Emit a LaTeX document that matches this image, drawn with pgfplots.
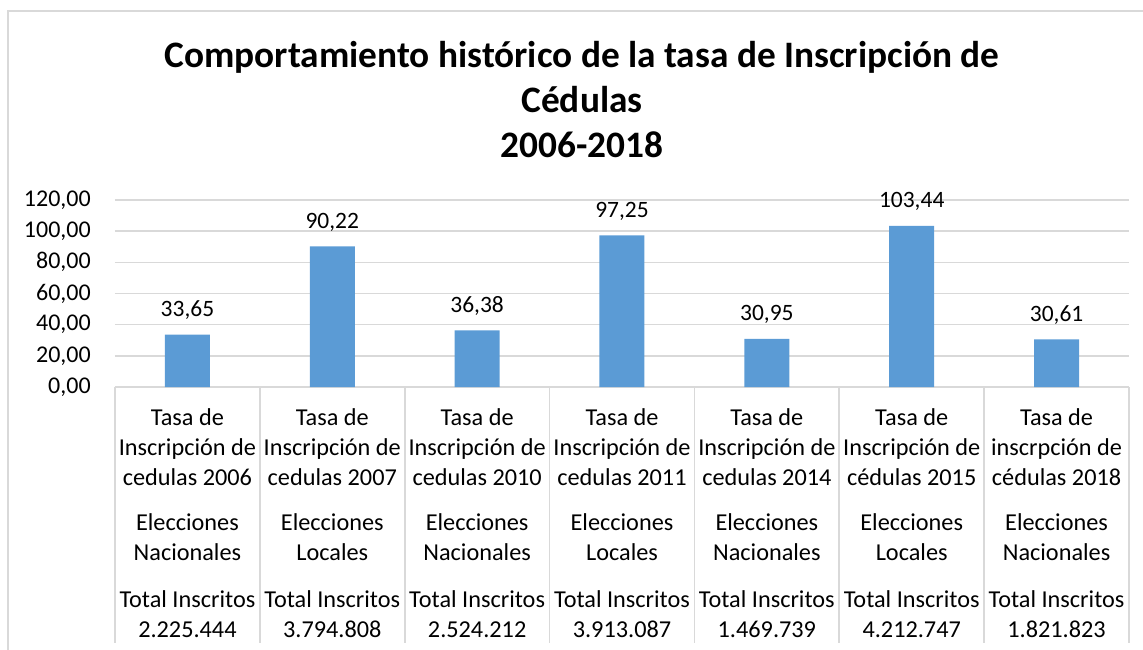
\documentclass[border=0pt]{standalone}
\usepackage{pgfplots}
\pgfplotsset{compat=1.18}
\usepackage{fontspec}
\setmainfont{Carlito}
\definecolor{barblue}{HTML}{5B9BD5}
\definecolor{gridgray}{HTML}{D9D9D9}
\begin{document}
\begin{tikzpicture}
\begin{axis}[
  at={(0pt,0pt)}, anchor=origin,
  scale only axis, width=760.5pt, height=140.25pt,
  xmin=-0.5, xmax=6.5, ymin=0, ymax=120,
  ytick={0,20,...,120},
  xtick={0,...,6},
  xticklabels={
    {Tasa de\\Inscripción de\\cedulas 2006\\[11.25pt]Elecciones\\Nacionales\\[12.75pt]Total Inscritos\\2.225.444},
    {Tasa de\\Inscripción de\\cedulas 2007\\[11.25pt]Elecciones\\Locales\\[12.75pt]Total Inscritos\\3.794.808},
    {Tasa de\\Inscripción de\\cedulas 2010\\[11.25pt]Elecciones\\Nacionales\\[12.75pt]Total Inscritos\\2.524.212},
    {Tasa de\\Inscripción de\\cedulas 2011\\[11.25pt]Elecciones\\Locales\\[12.75pt]Total Inscritos\\3.913.087},
    {Tasa de\\Inscripción de\\cedulas 2014\\[11.25pt]Elecciones\\Nacionales\\[12.75pt]Total Inscritos\\1.469.739},
    {Tasa de\\Inscripción de\\cédulas 2015\\[11.25pt]Elecciones\\Locales\\[12.75pt]Total Inscritos\\4.212.747},
    {Tasa de\\inscrpción de\\cédulas 2018\\[11.25pt]Elecciones\\Nacionales\\[12.75pt]Total Inscritos\\1.821.823}},
  x tick label style={align=center, font=\fontsize{18.2}{22.5}\selectfont, inner sep=0pt, yshift=-16pt},
  y tick label style={font=\fontsize{18}{20}\selectfont, inner sep=0pt, xshift=-18pt},
  major tick length=0pt,
  axis x line*=bottom, axis y line*=left,
  x axis line style={gridgray, line width=1.2pt, -},
  y axis line style={draw=none},
  ymajorgrids, grid style={gridgray, line width=1.2pt},
  /pgf/number format/.cd, fixed, fixed zerofill, precision=2, use comma, 1000 sep={}, assume math mode=true,
  /pgfplots/.cd,
  clip=false,
  nodes near coords,
  every node near coord/.append style={font=\fontsize{17.6}{20}\selectfont, anchor=base, inner sep=0pt, yshift=13.5pt, black},
]
\addplot[ybar, bar width=33.75pt, fill=barblue, draw=none] coordinates {
  (0,33.65) (1,90.22) (2,36.38) (3,97.25) (4,30.95) (5,103.44) (6,30.61)};
\pgfplotsinvokeforeach{-0.5,0.5,1.5,2.5,3.5,4.5,5.5,6.5}{
  \draw[gridgray, line width=1.2pt] (axis cs:#1,0) -- ([yshift=-192pt]axis cs:#1,0);
}
\end{axis}
\begin{scope}[x=0.75pt,y=0.75pt,shift={(-140.57pt,-197.25pt)}]
\path[use as bounding box] (0,0) rectangle (1143,650);
\draw[gridgray, line width=1.2pt] (8,-2) -- (8,639) -- (1145,639);
\node[font=\bfseries\fontsize{28}{33.75}\selectfont, align=center] at (582,550)
  {Comportamiento histórico de la tasa de Inscripción de\\Cédulas\\2006-2018};
\end{scope}
\end{tikzpicture}
\end{document}
